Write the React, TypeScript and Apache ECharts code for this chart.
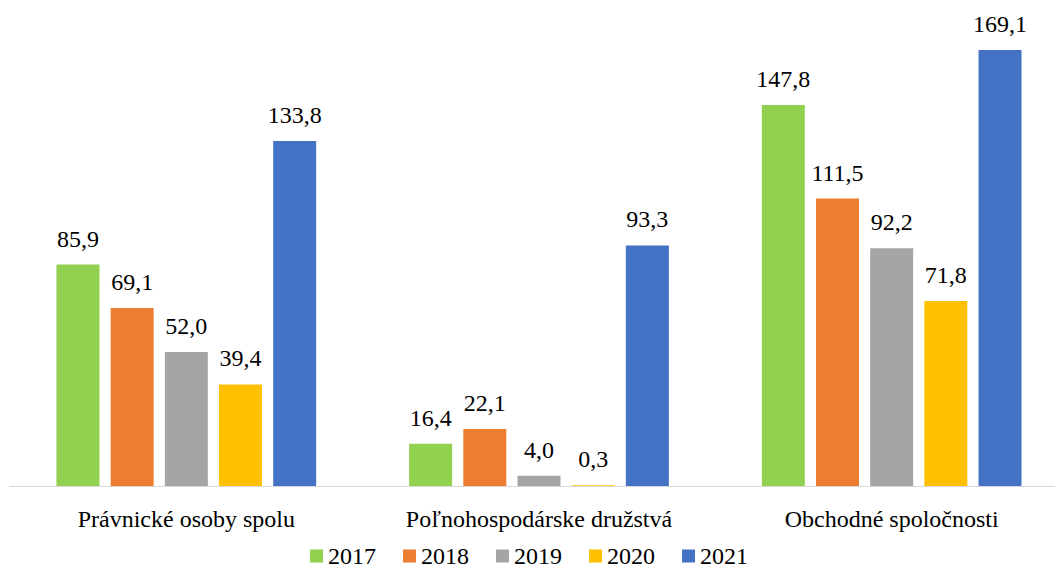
import React, { useEffect, useRef } from "react";
import * as echarts from "echarts";

const categories = ["Právnické osoby spolu", "Poľnohospodárske družstvá", "Obchodné spoločnosti"];
const years = ["2017", "2018", "2019", "2020", "2021"];
const colors = ["#92d050", "#ed7d31", "#a5a5a5", "#ffc000", "#4472c4"];
const v2017 = [85.9, 16.4, 147.8];
const v2018 = [69.1, 22.1, 111.5];
const v2019 = [52.0, 4.0, 92.2];
const v2020 = [39.4, 0.3, 71.8];
const v2021 = [133.8, 93.3, 169.1];
const values = [v2017, v2018, v2019, v2020, v2021];

const FONT = "Liberation Serif, Times New Roman, serif";

export default function App() {
  const ref = useRef<HTMLDivElement>(null);
  useEffect(() => {
    document.body.style.margin = "0";
    const chart = echarts.init(ref.current!, null, { renderer: "svg" });
    chart.setOption({
      animation: false,
      backgroundColor: "#ffffff",
      textStyle: { fontFamily: FONT },
      grid: { left: 10, top: 22, right: 2, height: 464, containLabel: false },
      legend: {
        top: 544,
        left: 310,
        padding: 0,
        itemWidth: 13,
        itemHeight: 13,
        itemGap: 27,
        icon: "rect",
        textStyle: { fontFamily: FONT, fontSize: 24, color: "#000" },
        data: years,
      },
      xAxis: {
        type: "category",
        data: categories,
        axisLine: { show: true, lineStyle: { color: "#d9d9d9", width: 1 } },
        axisTick: { show: false },
        axisLabel: { fontFamily: FONT, fontSize: 24, color: "#000", margin: 21 },
      },
      yAxis: {
        type: "value",
        min: 0,
        max: 180,
        show: false,
        splitLine: { show: false },
      },
      series: years.map((y, i) => ({
        name: y,
        type: "bar",
        data: values[i],
        barWidth: 43,
        barGap: "26%",
        itemStyle: { color: colors[i] },
        label: {
          show: true,
          position: "top",
          distance: 14,
          fontFamily: FONT,
          fontSize: 24,
          color: "#000",
          formatter: (p: any) => p.value.toFixed(1).replace(".", ","),
        },
      })),
    });
    return () => chart.dispose();
  }, []);
  return (
    <div style={{ width: 1055, height: 571, overflow: "hidden", position: "relative" }}>
      <div ref={ref} style={{ width: 1070, height: 571 }} />
    </div>
  );
}
